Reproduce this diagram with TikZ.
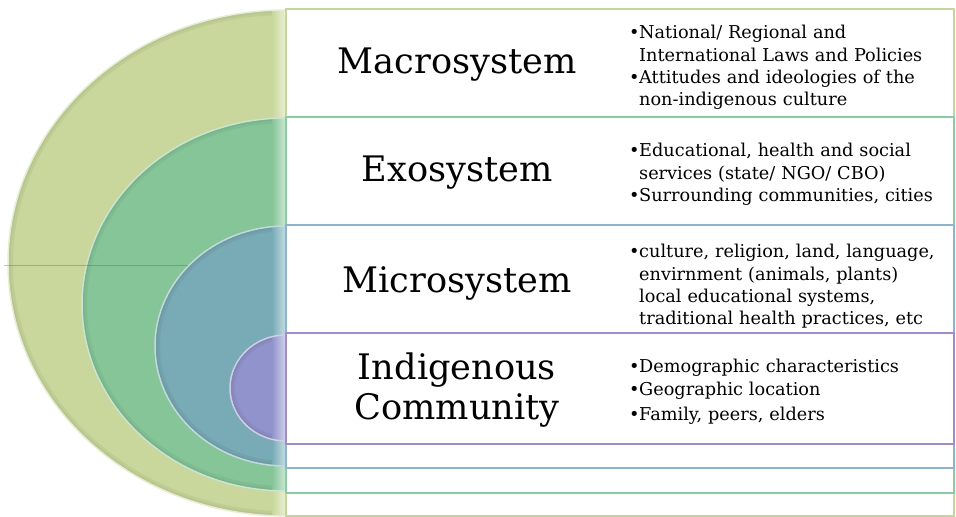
\documentclass[tikz,border=0pt]{standalone}
\usepackage{fontspec}
\setmainfont{DejaVu Serif}

\definecolor{macroC}{HTML}{C9D79C}
\definecolor{exoC}{HTML}{86C598}
\definecolor{microC}{HTML}{78ABB6}
\definecolor{indC}{HTML}{9193CC}
\definecolor{macroL}{HTML}{C3D69B}
\definecolor{exoL}{HTML}{8CCBA3}
\definecolor{microL}{HTML}{8DB3CF}
\definecolor{indL}{HTML}{A28BCB}

\newcommand{\bul}[1]{\par\hangindent=8.5pt\hangafter=1\noindent\makebox[8.5pt][l]{\textbullet}#1}
\newcommand{\nl}{\hfil\break}

% half disk: colour, top y, x radius, y radius
\newcommand{\halfdisk}[4]{%
  \begin{scope}
    \clip (\X,#2) arc[start angle=270, end angle=90, x radius=#3, y radius=#4] -- cycle;
    \fill[#1] (\X,#2) arc[start angle=270, end angle=90, x radius=#3, y radius=#4] -- cycle;
    \draw[#1!75!black, opacity=0.18, line width=3mm] (\X,#2) arc[start angle=270, end angle=90, x radius=#3, y radius=#4];
    \draw[#1!75!black, opacity=0.18, line width=1.5mm] (\X,#2) arc[start angle=270, end angle=90, x radius=#3, y radius=#4];
    \fill[left color=#1, right color=#1!40!white] (\X-14,#2) rectangle (\X,#2+2*#4);
  \end{scope}
  \draw[#1!45!white, ring] (\X,#2) arc[start angle=270, end angle=90, x radius=#3, y radius=#4];}

\begin{document}
\begin{tikzpicture}[x=0.3mm, y=-0.3mm,
  ring/.style={line width=0.45mm},
  band/.style={fill=white, line width=0.45mm},
  title/.style={align=center, font=\fontsize{30}{34}\selectfont},
  items/.style={anchor=west, text width=100mm, align=left, inner sep=0pt,
    font=\fontsize{15.1}{19}\selectfont}]

  \useasboundingbox (0,0) rectangle (956,517);

  \def\X{286}

  % outer half disk (macro)
  \halfdisk{macroC}{10}{278}{253}

  % second half disk (exo)
  \halfdisk{exoC}{118}{204}{186.5}

  % faint mid line
  \draw[black!45!olive, opacity=0.35, line width=0.15mm] (4,265) -- (200,265);

  % third half disk (micro)
  \halfdisk{microC}{226}{131}{120}

  % inner half disk (indigenous)
  \halfdisk{indC}{335}{56}{53}

  % nested bands on the right
  \draw[band, draw=macroL] (\X,9) rectangle (954,516);
  \draw[band, draw=exoL] (\X,117) rectangle (954,493);
  \draw[band, draw=microL] (\X,225) rectangle (954,468);
  \draw[band, draw=indL] (\X,333) rectangle (954,444);

  % titles
  \node[title] (macro) at (457,65) {Macrosystem};
  \node[title] (exo) at (457,173) {Exosystem};
  \node[title] (micro) at (457,283) {Microsystem};
  \node[title] (ind) at (457,390) {Indigenous\\Community};

  % bullet lists
  \node[items] (macroT) at (629,63) {%
    \bul{National/ Regional and\nl International Laws and Policies}
    \bul{Attitudes and ideologies of the\nl non-indigenous culture}\par};

  \node[items] (exoT) at (629,170) {%
    \bul{Educational, health and social\nl services (state/ NGO/ CBO)}
    \bul{Surrounding communities, cities}\par};

  \node[items] (microT) at (629,282) {%
    \bul{culture, religion, land, language,\nl envirnment (animals, plants)\nl local educational systems,\nl traditional health practices, etc}\par};

  \node[items] (indT) at (629,387) {%
    \bul{Demographic characteristics}\par\vspace{1pt}
    \bul{Geographic location}\par\vspace{2pt}
    \bul{Family, peers, elders}\par};

\end{tikzpicture}
\end{document}
